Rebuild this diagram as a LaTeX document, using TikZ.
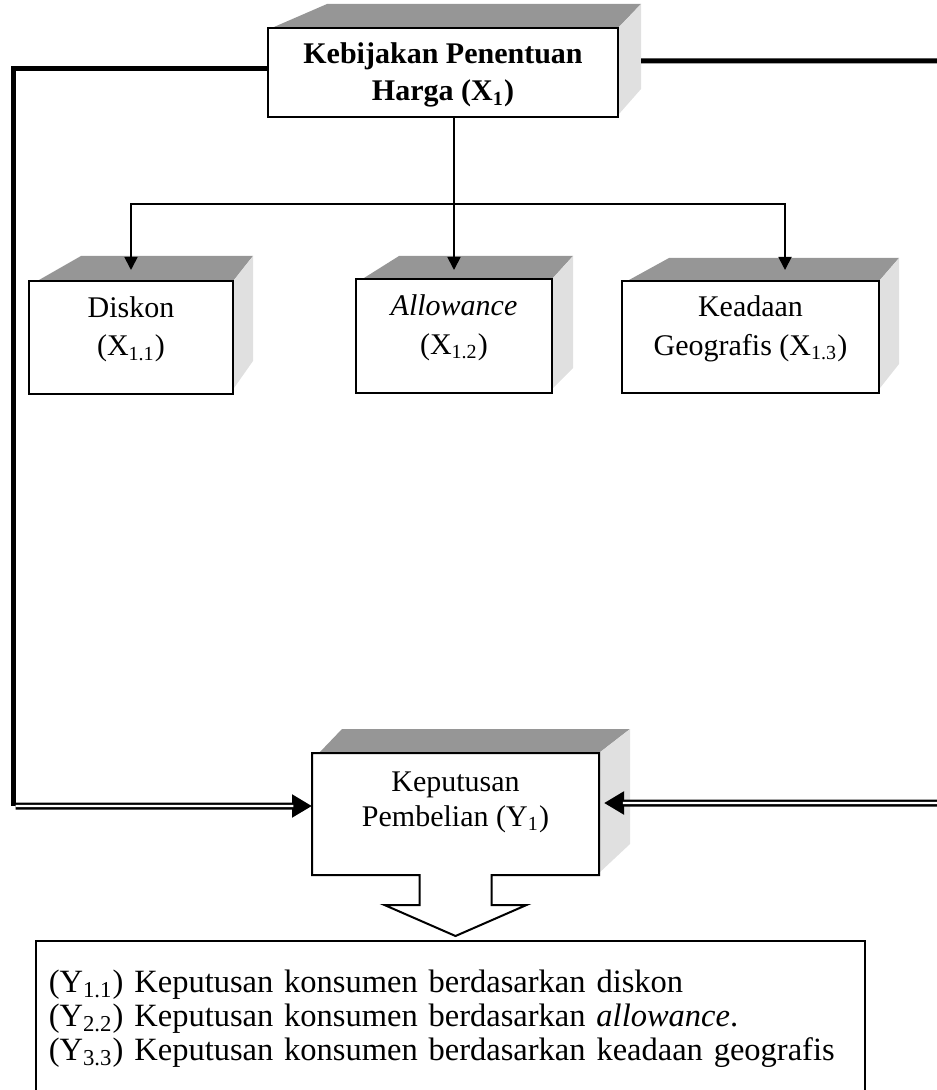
\documentclass[tikz,border=0pt]{standalone}
\usepackage{fontspec}
\setmainfont{Liberation Serif}
\usetikzlibrary{arrows.meta,calc,backgrounds}

\begin{document}
\begin{tikzpicture}[
    x=0.4pt, y=-0.4pt,
    box/.style={rectangle, draw, fill=white, line width=0.8pt, align=center, inner sep=0pt, font=\fontsize{12}{15.4}\selectfont},
    arrow/.style={-{Triangle[length=5.2pt,width=5.2pt]}, line width=0.7pt},
    heavy/.style={line width=2pt},
    dblarrow/.style={line width=2.8pt, -{Triangle[length=8pt,width=8.8pt]}, postaction={draw=white, line width=0.9pt, arrows=-, shorten >=7.5pt}},
    topface/.style={fill=black!41},
    sideface/.style={fill=black!12}
]
    \useasboundingbox (0,0) rectangle (937,1090);

    \node[box, font=\bfseries\fontsize{12}{14.8}\selectfont, minimum width=140pt, minimum height=35.6pt, text depth=0.5pt] (harga) at (443,72.5) {Kebijakan Penentuan\\Harga (X\textsubscript{1})};
    \node[box, minimum width=81.6pt, minimum height=45.2pt, text depth=9pt] (diskon) at (131,337.5) {Diskon\\(X\textsubscript{1.1})};
    \node[box, minimum width=78.4pt, minimum height=45.6pt, text depth=9pt] (allow) at (454,336) {\textit{Allowance}\\(X\textsubscript{1.2})};
    \node[box, minimum width=102.8pt, minimum height=44.8pt, text depth=9pt] (geo) at (750.5,337) {Keadaan\\Geografis (X\textsubscript{1.3})};
    \node[box, draw=none, minimum width=114pt, minimum height=48pt, text depth=12pt, font=\fontsize{12}{14}\selectfont] (beli) at (455.5,814) {Keputusan\\Pembelian (Y\textsubscript{1})};
    \node[box, anchor=north west, align=left, line width=0.6pt, text width=321.2pt, inner xsep=5.2pt, inner ysep=11.6pt, font=\fontsize{13}{13.6}\selectfont] (ket) at (35,940) {(Y\textsubscript{1.1}) Keputusan konsumen berdasarkan diskon\\(Y\textsubscript{2.2}) Keputusan konsumen berdasarkan \textit{allowance}.\\(Y\textsubscript{3.3}) Keputusan konsumen berdasarkan keadaan geografis\\\mbox{}\\\mbox{}};

    \begin{scope}[on background layer]
        \foreach \n/\dx/\dy/\lb/\lf/\rb/\rf in {harga/22/23/60/7/29/4, diskon/19/24/53/11/34/7, allow/20/22/44/9/26/6, geo/19/22/48/8/30/6, beli/31/24/30/7/31/2} {
            \fill[topface] ($(\n.north west)+(\lf,0)$) -- ($(\n.north west)+(\lb,-\dy)$) -- ($(\n.north east)+(\dx,-\dy)$) -- (\n.north east) -- cycle;
            \fill[sideface] (\n.north east) -- ($(\n.north east)+(\dx,-\dy)$) -- ($(\n.south east)+(\dx,-\rb)$) -- ($(\n.south east)+(0,-\rf)$) -- cycle;
        }
    \end{scope}

    \draw[line width=0.8pt] (beli.south west) -- (beli.north west) -- (beli.north east) -- (beli.south east) -- ($(beli.south)+(36,0)$) -- ++(0,30) -- ++(35,0) -- ($(beli.south)+(0,61)$) -- ($(beli.south)+(-71,30)$) -- ++(35,0) -- ($(beli.south)+(-36,0)$) -- cycle;

    \coordinate (split) at (454,204);
    \coordinate (lcorner) at (13,806);
    \coordinate (rtop) at (945,61);
    \coordinate (rbot) at (945,803);

    \draw[arrow] (harga.south -| allow.north) -- ([yshift=3.2pt]allow.north);
    \draw[arrow] (split) -| ([yshift=4pt]diskon.north);
    \draw[arrow] (split) -| ([xshift=13.8pt,yshift=4pt]geo.north);
    \draw[heavy] ([yshift=1.6pt]harga.west) -| (lcorner);
    \draw[heavy] ([xshift=8.8pt,yshift=4.6pt]harga.east) -- (rtop);
    \draw[dblarrow] ([xshift=1pt]lcorner) -- ([yshift=3.2pt]beli.west);
    \draw[dblarrow] (rbot) -- ([xshift=2pt,yshift=4.4pt]beli.east);
\end{tikzpicture}
\end{document}
